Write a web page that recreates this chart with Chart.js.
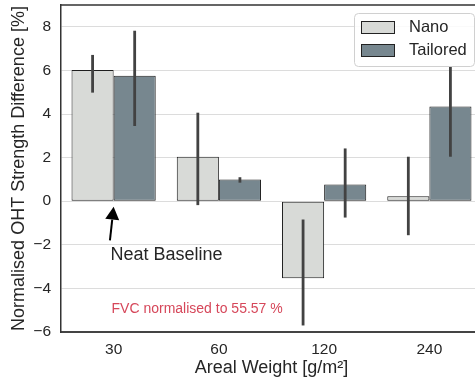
<!DOCTYPE html>
<html>
<head>
<meta charset="utf-8">
<script src="https://cdn.jsdelivr.net/npm/chart.js@4"></script>
<style>
  html, body { margin: 0; padding: 0; background: #fff; overflow: hidden; }
  #wrap { width: 490px; height: 379px; }
</style>
</head>
<body>
<div id="wrap"><canvas id="ohtChart" width="490" height="379"></canvas></div>
<script>
// data
const categories = ["30", "60", "120", "240"];
const seriesNames = ["Nano", "Tailored"];
const nanoValues = [6.02, 2.04, -3.53, 0.23];
const nanoErrLow = [4.98, -0.18, -5.70, -1.56];
const nanoErrHigh = [6.71, 4.06, -0.84, 2.04];
const tailoredValues = [5.75, 1.00, 0.77, 4.34];
const tailoredErrLow = [3.45, 0.85, -0.75, 2.04];
const tailoredErrHigh = [7.82, 1.10, 2.42, 6.18];
const yTicks = [-6, -4, -2, 0, 2, 4, 6, 8];

const FONT = "'Liberation Sans', Arial, sans-serif";
const colors = ["#d8dad7", "#77878f"];

// error bars on top of the bars
const errorBars = {
    id: "errorBars",
    afterDatasetsDraw(chart) {
        const ctx = chart.ctx;
        const y = chart.scales.y;
        const errs = [[nanoErrLow, nanoErrHigh], [tailoredErrLow, tailoredErrHigh]];
        ctx.save();
        ctx.strokeStyle = "#424242";
        ctx.lineWidth = 2.8;
        errs.forEach((pair, di) => {
            chart.getDatasetMeta(di).data.forEach((bar, i) => {
                ctx.beginPath();
                ctx.moveTo(bar.x, y.getPixelForValue(pair[0][i]));
                ctx.lineTo(bar.x, y.getPixelForValue(pair[1][i]));
                ctx.stroke();
            });
        });
        ctx.restore();
    }
};

// frame, annotations and boxed legend (matplotlib look)
const extras = {
    id: "extras",
    afterDraw(chart) {
        const ctx = chart.ctx;
        const a = chart.chartArea;
        const x = chart.scales.x, y = chart.scales.y;
        const catW = x.getPixelForValue(1) - x.getPixelForValue(0);
        const px = (cat, frac) => x.getPixelForValue(cat) + frac * catW;

        ctx.save();
        // top spine
        ctx.strokeStyle = "#333";
        ctx.lineWidth = 1.5;
        ctx.beginPath();
        ctx.moveTo(a.left, a.top);
        ctx.lineTo(a.right, a.top);
        ctx.lineTo(a.right, a.bottom);
        ctx.stroke();

        // arrow to the neat baseline
        const tipX = px(0, 0), tipY = y.getPixelForValue(-0.25);
        const tailX = px(0, -0.035), tailY = y.getPixelForValue(-1.8);
        const ang = Math.atan2(tipY - tailY, tipX - tailX);
        const headL = 13, headW = 7;
        const bx = tipX - headL * Math.cos(ang), by = tipY - headL * Math.sin(ang);
        ctx.strokeStyle = "#000";
        ctx.fillStyle = "#000";
        ctx.lineWidth = 2;
        ctx.beginPath();
        ctx.moveTo(tailX, tailY);
        ctx.lineTo(bx, by);
        ctx.stroke();
        ctx.beginPath();
        ctx.moveTo(tipX, tipY);
        ctx.lineTo(bx + headW * Math.sin(ang), by - headW * Math.cos(ang));
        ctx.lineTo(bx - headW * Math.sin(ang), by + headW * Math.cos(ang));
        ctx.closePath();
        ctx.fill();

        ctx.textBaseline = "middle";
        ctx.textAlign = "left";
        ctx.fillStyle = "#262626";
        ctx.font = "18px " + FONT;
        ctx.fillText("Neat Baseline", px(0, -0.03), y.getPixelForValue(-2.45));

        ctx.fillStyle = "#d6475a";
        ctx.font = "14px " + FONT;
        ctx.fillText("FVC normalised to 55.57 %", px(0, -0.02), y.getPixelForValue(-4.97));

        // legend box
        const lw = 120, lh = 53;
        const lx = a.right - 8 - lw, ly = a.top + 8;
        ctx.fillStyle = "rgba(255,255,255,0.85)";
        ctx.strokeStyle = "#d0d0d0";
        ctx.lineWidth = 1;
        ctx.beginPath();
        ctx.roundRect(lx + 0.5, ly + 0.5, lw, lh, 4);
        ctx.fill();
        ctx.stroke();
        ctx.font = "16.5px " + FONT;
        seriesNames.forEach((name, i) => {
            const sy = ly + 8 + i * 23;
            ctx.fillStyle = colors[i];
            ctx.fillRect(lx + 7, sy, 33, 12);
            ctx.strokeStyle = "#222";
            ctx.strokeRect(lx + 7.5, sy + 0.5, 33, 12);
            ctx.fillStyle = "#262626";
            ctx.fillText(name, lx + 55, sy + 6.5);
        });
        ctx.restore();
    }
};

new Chart(document.getElementById("ohtChart"), {
    type: "bar",
    data: {
        labels: categories,
        datasets: [
            {
                label: seriesNames[0],
                data: nanoValues,
                backgroundColor: colors[0],
                borderColor: "#1e1e1e",
                borderWidth: 1,
                borderSkipped: false,
                categoryPercentage: 0.8,
                barPercentage: 1.0
            },
            {
                label: seriesNames[1],
                data: tailoredValues,
                backgroundColor: colors[1],
                borderColor: "#1e1e1e",
                borderWidth: 1,
                borderSkipped: false,
                categoryPercentage: 0.8,
                barPercentage: 1.0
            }
        ]
    },
    options: {
        responsive: false,
        devicePixelRatio: 1,
        animation: false,
        layout: { padding: { left: 0, right: 8, top: 5, bottom: 0 } },
        plugins: {
            legend: { display: false },
            tooltip: { enabled: false }
        },
        scales: {
            x: {
                grid: { display: false, drawTicks: false, tickLength: 0 },
                border: { display: true, color: "#444", width: 2 },
                ticks: { color: "#262626", font: { family: FONT, size: 15.5 }, padding: 8 },
                title: {
                    display: true,
                    text: "Areal Weight [g/m²]",
                    color: "#262626",
                    font: { family: FONT, size: 18 },
                    padding: { top: 0, bottom: 0 }
                },
                afterFit(scale) {
                    scale.height = 47;
                    scale.paddingLeft = 0;
                    scale.paddingRight = 0;
                }
            },
            y: {
                min: -6,
                max: 9,
                afterBuildTicks(scale) { scale.ticks = yTicks.map(v => ({ value: v })); },
                grid: { color: "#dcdcdc", lineWidth: 1, drawTicks: false, tickLength: 0 },
                border: { display: true, color: "#333", width: 1.5 },
                ticks: {
                    color: "#262626",
                    font: { family: FONT, size: 15.5 },
                    padding: 10,
                    callback: v => String(v).replace("-", "\u2212")
                },
                title: {
                    display: true,
                    text: "Normalised OHT Strength Difference [%]",
                    color: "#262626",
                    font: { family: FONT, size: 18 },
                    padding: { top: 8, bottom: 0 }
                },
                afterFit(scale) {
                    scale.width = 61;
                    scale.paddingTop = 0;
                    scale.paddingBottom = 0;
                }
            }
        }
    },
    plugins: [errorBars, extras]
});
</script>
</body>
</html>
